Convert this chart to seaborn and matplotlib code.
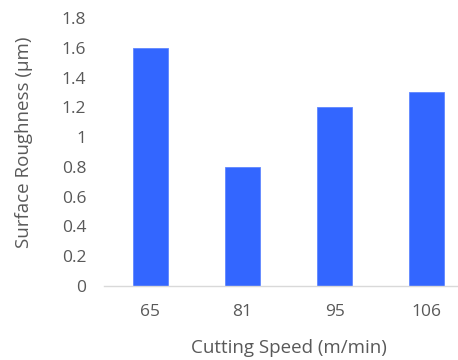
import matplotlib
matplotlib.use("Agg")
import matplotlib.pyplot as plt
import seaborn as sns
import pandas as pd

speeds = ["65", "81", "95", "106"]
roughness = [1.6, 0.8, 1.2, 1.3]
yticks = [0, 0.2, 0.4, 0.6, 0.8, 1.0, 1.2, 1.4, 1.6, 1.8]
ytick_labels = ["0", "0.2", "0.4", "0.6", "0.8", "1", "1.2", "1.4", "1.6", "1.8"]

sns.set_theme(style="white")
plt.rcParams["font.family"] = ["Open Sans", "DejaVu Sans"]

df = pd.DataFrame({"speed": speeds, "roughness": roughness})

fig = plt.figure(figsize=(4.58, 3.6), dpi=100)
ax = fig.add_axes([0.228, 0.2056, 0.804, 0.7444])
sns.barplot(data=df, x="speed", y="roughness", color="#3366FF", saturation=1,
            width=0.38, ax=ax, edgecolor="#5F86FF", linewidth=0.6)
ax.set_xlim(-0.5, 3.5)
ax.set_ylim(0, 1.8)
ax.set_yticks(yticks)
ax.set_yticklabels(ytick_labels)
txt = "#595959"
ax.tick_params(axis="both", colors=txt, labelsize=12.5, length=0)
ax.tick_params(axis="y", pad=13)
ax.tick_params(axis="x", pad=13)
for s in ["top", "right", "left"]:
    ax.spines[s].set_visible(False)
ax.spines["bottom"].set_color("#D9D9D9")
ax.spines["bottom"].set_linewidth(1)
ax.set_xlabel("Cutting Speed (m/min)", color=txt, fontsize=13.5, labelpad=14)
ax.set_ylabel("Surface Roughness (\u00b5m)", color=txt, fontsize=13.5, labelpad=21, y=0.535)
fig.savefig("out.png", dpi=100)
